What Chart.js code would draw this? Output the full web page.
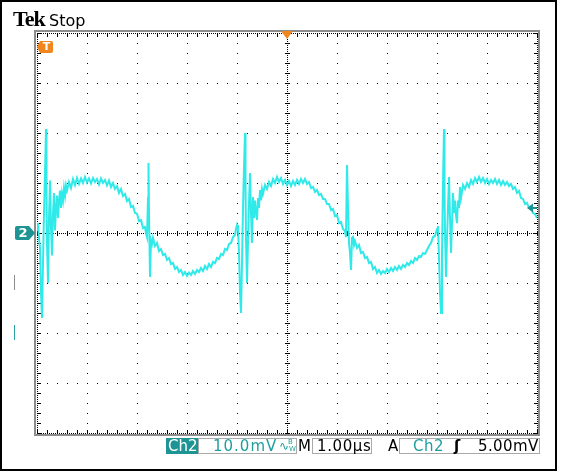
<!DOCTYPE html>
<html>
<head>
<meta charset="utf-8">
<script src="https://cdn.jsdelivr.net/npm/chart.js@4.4.1/dist/chart.umd.min.js"></script>
<style>
  html, body { margin:0; padding:0; background:#fff; }
  #wrap { position:relative; width:564px; height:476px; overflow:hidden; background:#fff; }
  #c { position:absolute; left:0; top:0; }
  #frame { position:absolute; left:0; top:0; width:557px; height:471px; border:2px solid #000; box-sizing:border-box; pointer-events:none; }
  .t { position:absolute; white-space:nowrap; font-family:"DejaVu Sans", sans-serif; }
  .st { font-size:15px; line-height:16px; height:16px; top:438px; }
  .box { position:absolute; top:438px; height:16px; box-sizing:border-box; border:1px solid #a9a9a9; }
</style>
</head>
<body>
<div id="wrap">
  <canvas id="c" width="564" height="476"></canvas>
  <div id="frame"></div>

  <div class="t" style="left:13px; top:8px; font-family:'Liberation Serif', serif; font-weight:bold; font-size:22px; line-height:22px; letter-spacing:-1px;">Tek</div>
  <div class="t" style="left:49px; top:13px; font-size:16px; line-height:16px;">Stop</div>

  <div class="t" style="left:40px; top:41px; width:13px; height:12px; font-size:11px; line-height:12px; font-weight:bold; color:#fff; text-align:center;">T</div>
  <div class="t" style="left:15px; top:226px; width:16px; height:14px; font-size:13px; line-height:14px; font-weight:bold; color:#fff; text-align:center;">2</div>

  <div class="box" style="left:166px; width:32px; background:#1f9494; border-color:#1f9494;"></div>
  <div class="t st" style="left:168px; color:#fff;">Ch2</div>
  <div class="box" style="left:198px; width:99px;"></div>
  <div class="t st" style="left:213px; color:#1f9e9e; letter-spacing:1px;">10.0mV</div>
  <div class="t" style="left:279px; top:439px; font-size:12px; line-height:14px; color:#1f9e9e;">∿</div>
  <div class="t" style="left:288px; top:438px; font-size:7px; line-height:8px; color:#1f9e9e;">B</div>
  <div class="t" style="left:289px; top:445px; font-size:7px; line-height:8px; color:#1f9e9e;">W</div>
  <div class="t st" style="left:298px; color:#000;">M</div>
  <div class="box" style="left:312px; width:60px;"></div>
  <div class="t st" style="left:317px; color:#000; letter-spacing:0.6px;">1.00µs</div>
  <div class="t st" style="left:388px; color:#000;">A</div>
  <div class="box" style="left:399px; width:141px;"></div>
  <div class="t st" style="left:413px; color:#1f9e9e; letter-spacing:0.5px;">Ch2</div>
  <div class="t st" style="left:454px; color:#000; font-weight:bold;">ʃ</div>
  <div class="t st" style="left:478px; color:#000; letter-spacing:0.4px;">5.00mV</div>
</div>

<script>
// ---- Scope settings ----
const timeRangeUs = [0, 10];        // 10 divisions x 1.00 us/div
const voltRangeMv = [-40, 40];      // 8 divisions x 10.0 mV/div
const majorTimeTicksUs = [0,1,2,3,4,5,6,7,8,9,10];
const majorVoltTicksMv = [-40,-30,-20,-10,0,10,20,30,40];
const triggerTimeUs = 5;            // trigger position marker (top)
const triggerLevelMv = 5.0;         // A Ch2 5.00mV
const ch2GroundMv = 0;              // "2" marker

// ---- Ch2 trace samples [time us, mV] ----
const ch2Cycle1 = [
 [0.00,0.4],[0.02,2.0],[0.04,-1.0],[0.06,-3.0],[0.08,-12],[0.10,-17],[0.12,-6],[0.14,4],[0.16,12],[0.18,20.8],[0.19,8],[0.20,-2],[0.22,-10],[0.24,3],[0.26,10.5],[0.28,1],[0.30,-4.5],[0.32,4],[0.34,8],[0.36,0.5],[0.38,5],[0.40,7.5],[0.42,3],[0.44,6.5],[0.46,8.5],[0.48,5],[0.50,7.8],[0.52,6.5],[0.54,9],[0.56,7.5],[0.58,9.5],[0.60,8.5],[0.64,10.2],[0.68,9.0],[0.72,10.8],[0.76,9.6],[0.80,11.0],[0.84,9.8],[0.88,10.9],[0.92,10.0],[0.96,11.2],[1.00,10.1],[1.04,10.9],[1.08,9.9],[1.12,11.0],[1.16,10.2],[1.20,10.8],[1.24,9.7],[1.28,10.9],[1.32,10.0],[1.36,10.6],[1.40,9.5],[1.44,10.5],[1.48,9.2],[1.52,10.0],[1.56,8.8],[1.60,9.4],[1.64,8.0],[1.68,8.8],[1.72,7.4],[1.76,7.8],[1.80,6.4],[1.84,6.8],[1.88,5.2],[1.92,5.4],[1.96,4.0],[2.00,3.9]
];
const ch2Cycle2 = [
 [2.04,2.4],[2.08,2.6],[2.12,1.0],[2.16,1.2],[2.18,0.0],[2.20,-0.8],[2.22,7],[2.23,14.0],[2.24,4],[2.26,-8.8],[2.28,-1.5],[2.30,-2.2],[2.32,-1.0],[2.36,-2.6],[2.40,-2.0],[2.44,-3.6],[2.48,-3.2],[2.52,-4.4],[2.56,-4.2],[2.60,-5.4],[2.64,-5.0],[2.68,-6.2],[2.72,-6.0],[2.76,-7.2],[2.80,-6.8],[2.84,-7.8],[2.88,-7.4],[2.92,-8.4],[2.96,-7.8],[3.00,-8.6],[3.04,-7.9],[3.08,-8.4],[3.12,-7.6],[3.16,-8.2],[3.20,-7.4],[3.24,-7.8],[3.28,-7.0],[3.32,-7.6],[3.36,-6.6],[3.40,-7.2],[3.44,-6.2],[3.48,-6.8],[3.52,-5.8],[3.56,-6.0],[3.60,-5.0],[3.64,-5.2],[3.68,-4.2],[3.72,-4.4],[3.76,-3.2],[3.80,-3.4],[3.84,-2.2],[3.88,-2.0],[3.92,-0.8],[3.96,-0.4],[3.98,0.8],[4.00,1.6],[4.02,1.0]
];
const ch2Cycle3 = [
 [4.04,-4],[4.06,-12],[4.08,-16],[4.10,-6],[4.12,5],[4.14,13],[4.16,20],[4.17,10],[4.18,-1],[4.20,-10],[4.22,-2],[4.24,6],[4.26,12],[4.28,4],[4.30,-2],[4.32,7.2],[4.34,3],[4.36,6.5],[4.38,4],[4.40,2.6],[4.42,7],[4.44,5],[4.46,8.6],[4.48,6.5],[4.50,8.8],[4.52,7.8],[4.56,9.6],[4.60,8.8],[4.64,10.2],[4.68,9.4],[4.72,10.8],[4.76,10.0],[4.80,11.2],[4.84,10.2],[4.88,11.0],[4.92,9.8],[4.96,10.6],[5.00,9.6],[5.04,10.4],[5.08,9.4],[5.12,10.4],[5.16,9.6],[5.20,10.6],[5.24,9.8],[5.28,10.8],[5.32,10.0],[5.36,10.8],[5.40,9.8],[5.44,10.2],[5.48,9.0],[5.52,9.2],[5.56,8.2],[5.60,8.6],[5.64,7.6],[5.68,7.8],[5.72,6.8],[5.76,6.8],[5.80,5.8],[5.84,5.8],[5.88,4.6],[5.92,4.8],[5.96,3.4],[6.00,3.6],[6.04,2.0],[6.08,2.2],[6.12,0.8],[6.16,0.4]
];
const ch2Cycle4 = [
 [6.18,-0.8],[6.20,13.6],[6.22,5],[6.24,-2],[6.26,-4],[6.28,-7.4],[6.30,-1],[6.32,-0.8],[6.34,-2.4],[6.36,-1.6],[6.40,-3.0],[6.44,-2.4],[6.48,-4.0],[6.52,-3.8],[6.56,-5.0],[6.60,-4.8],[6.64,-6.0],[6.68,-5.8],[6.72,-7.2],[6.76,-6.8],[6.80,-8.0],[6.84,-7.4],[6.88,-8.2],[6.92,-7.6],[6.96,-8.0],[7.00,-7.2],[7.04,-7.8],[7.08,-7.0],[7.12,-7.6],[7.16,-6.8],[7.20,-7.4],[7.24,-6.6],[7.28,-7.2],[7.32,-6.4],[7.36,-6.8],[7.40,-6.0],[7.44,-6.4],[7.48,-5.6],[7.52,-6.0],[7.56,-5.0],[7.60,-5.4],[7.64,-4.6],[7.68,-4.8],[7.72,-4.0],[7.76,-4.2],[7.80,-3.4],[7.84,-2.6],[7.88,-2.0],[7.92,-0.8],[7.96,-0.6],[8.00,0.8],[8.02,1.4]
];
const ch2Cycle5 = [
 [8.04,-5],[8.06,-12],[8.08,-16],[8.10,-4],[8.12,10],[8.14,20.8],[8.15,9],[8.16,0],[8.18,-8.8],[8.20,-1],[8.22,5],[8.24,11.2],[8.26,3],[8.28,-4],[8.30,2],[8.32,8],[8.34,4],[8.36,6.5],[8.38,3.5],[8.40,2],[8.42,6.5],[8.44,5],[8.46,9.2],[8.48,7],[8.52,9.6],[8.56,8.8],[8.60,10.0],[8.64,9.2],[8.68,10.6],[8.72,9.8],[8.76,11.0],[8.80,10.2],[8.84,11.2],[8.88,10.2],[8.92,11.0],[8.96,10.0],[9.00,10.8],[9.04,9.8],[9.08,10.6],[9.12,10.0],[9.16,10.8],[9.20,9.8],[9.24,10.6],[9.28,9.6],[9.32,10.4],[9.36,9.6],[9.40,10.2],[9.44,9.4],[9.48,9.8],[9.52,8.8],[9.56,9.2],[9.60,8.0],[9.64,8.4],[9.68,7.0],[9.72,6.8],[9.76,5.8],[9.80,6.0],[9.84,5.0],[9.88,5.0],[9.92,4.0],[9.96,3.8],[10.0,3.0]
];

const TRACE = '#30eaea';
const TEAL = '#1f9494';
const ORANGE = '#f0861e';

const ch2Points = [...ch2Cycle1, ...ch2Cycle2, ...ch2Cycle3, ...ch2Cycle4, ...ch2Cycle5]
  .map(([t, v]) => ({ x: t, y: v }));

const gridPlugin = {
  id: 'scopeGrid',
  beforeDatasetsDraw(chart) {
    const { ctx, chartArea: a, scales: { x: xs, y: ys } } = chart;
    const L = Math.round(a.left), R = Math.round(a.right), T = Math.round(a.top), B = Math.round(a.bottom);
    ctx.save();
    ctx.fillStyle = '#8c8c8c';
    ctx.fillRect(L - 3, T - 3, R - L + 6, 2);
    ctx.fillRect(L - 3, B + 1, R - L + 6, 2);
    ctx.fillRect(L - 3, T - 3, 2, B - T + 6);
    ctx.fillRect(R + 1, T - 3, 2, B - T + 6);
    ctx.fillStyle = '#000';
    const dot = (x, y) => ctx.fillRect(Math.round(x), Math.round(y), 1, 1);
    const cx = Math.round(xs.getPixelForValue(triggerTimeUs));
    const cy = Math.round(ys.getPixelForValue(0));
    majorTimeTicksUs.forEach(t => {
      const gx = Math.round(xs.getPixelForValue(t));
      if (gx === cx || gx === L || gx === R) return;
      for (let y = T; y <= B; y += 10) dot(gx, y);
    });
    majorVoltTicksMv.forEach(v => {
      const gy = Math.round(ys.getPixelForValue(v));
      if (gy === cy || gy === T || gy === B) return;
      for (let x = L; x <= R; x += 10) dot(x, gy);
    });
    for (let x = L; x <= R; x += 2) { dot(x, cy); dot(x, T); dot(x, B); }
    for (let y = T; y <= B; y += 2) { dot(cx, y); dot(L, y); dot(R, y); }
    const tMin = timeRangeUs[0], tMax = timeRangeUs[1];
    for (let k = 0; k <= 50; k++) {
      const tx = Math.round(xs.getPixelForValue(tMin + k * (tMax - tMin) / 50));
      ctx.fillRect(tx, cy - 2, 1, 5);
      ctx.fillRect(tx, T, 1, 4);
      ctx.fillRect(tx, B - 3, 1, 4);
    }
    const vMin = voltRangeMv[0], vMax = voltRangeMv[1];
    for (let k = 0; k <= 40; k++) {
      const ty = Math.round(ys.getPixelForValue(vMin + k * (vMax - vMin) / 40));
      ctx.fillRect(cx - 2, ty, 5, 1);
      ctx.fillRect(L, ty, 4, 1);
      ctx.fillRect(R - 3, ty, 4, 1);
    }
    ctx.restore();
  }
};

const markerPlugin = {
  id: 'scopeMarkers',
  afterDraw(chart) {
    const { ctx, chartArea: a, scales: { x: xs, y: ys } } = chart;
    const y0 = ys.getPixelForValue(ch2GroundMv);
    const yT = ys.getPixelForValue(triggerLevelMv);
    const xT = xs.getPixelForValue(triggerTimeUs);
    ctx.save();
    ctx.fillStyle = TEAL;
    ctx.beginPath();
    ctx.moveTo(17, y0 - 7); ctx.lineTo(29, y0 - 7); ctx.lineTo(35, y0); ctx.lineTo(29, y0 + 7);
    ctx.lineTo(17, y0 + 7); ctx.quadraticCurveTo(15, y0 + 7, 15, y0 + 5); ctx.lineTo(15, y0 - 5);
    ctx.quadraticCurveTo(15, y0 - 7, 17, y0 - 7); ctx.closePath(); ctx.fill();
    ctx.beginPath();
    ctx.moveTo(527, yT); ctx.lineTo(533, yT - 4.5); ctx.lineTo(533, yT + 4.5); ctx.closePath(); ctx.fill();
    ctx.fillRect(533, Math.round(yT) - 1, 4, 2);
    ctx.fillStyle = ORANGE;
    ctx.beginPath();
    ctx.moveTo(xT - 6, a.top - 2); ctx.lineTo(xT + 6, a.top - 2); ctx.lineTo(xT, a.top + 6); ctx.closePath(); ctx.fill();
    ctx.beginPath();
    ctx.moveTo(37, 47); ctx.lineTo(40, 41); ctx.lineTo(51, 41); ctx.quadraticCurveTo(53, 41, 53, 43);
    ctx.lineTo(53, 51); ctx.quadraticCurveTo(53, 53, 51, 53); ctx.lineTo(40, 53); ctx.closePath(); ctx.fill();
    ctx.fillStyle = '#8c8c8c';
    ctx.fillRect(14, 275, 1, 15);
    ctx.fillStyle = '#2aa0a0';
    ctx.fillRect(14, 325, 1, 15);
    ctx.restore();
  }
};

new Chart(document.getElementById('c'), {
  type: 'line',
  data: {
    datasets: [{
      data: ch2Points,
      borderColor: TRACE,
      borderWidth: 2,
      pointRadius: 0,
      tension: 0,
      fill: false
    }]
  },
  options: {
    responsive: false,
    animation: false,
    events: [],
    layout: { padding: { left: 37, right: 27, top: 33, bottom: 43 } },
    scales: {
      x: { type: 'linear', min: timeRangeUs[0], max: timeRangeUs[1], display: false },
      y: { type: 'linear', min: voltRangeMv[0], max: voltRangeMv[1], display: false }
    },
    plugins: { legend: { display: false }, tooltip: { enabled: false } }
  },
  plugins: [gridPlugin, markerPlugin]
});
</script>
</body>
</html>
